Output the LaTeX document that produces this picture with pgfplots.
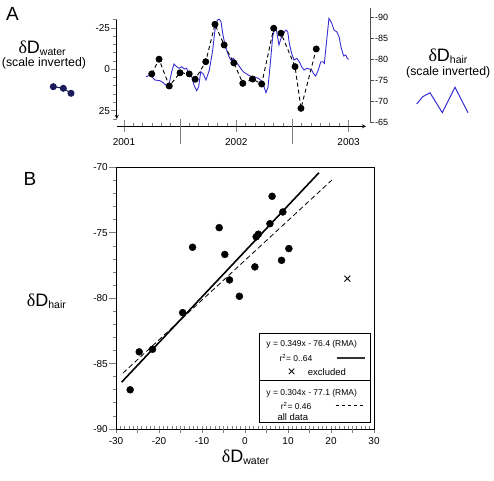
\documentclass[border=0pt]{standalone}
\usepackage{pgfplots}
\pgfplotsset{compat=1.18}
\usepackage{fontspec}
\setmainfont{Liberation Sans}
\newfontfamily\grk{Liberation Serif}
\definecolor{hairblue}{RGB}{55,45,210}
\definecolor{navy}{RGB}{28,28,92}
\definecolor{spinegray}{RGB}{80,80,80}
\newcommand{\dD}[1]{{\fontsize{18}{18}\selectfont{\grk δ}D}\raisebox{-2pt}{\fontsize{10.5}{10.5}\selectfont #1}}
\begin{document}
\begin{tikzpicture}
\useasboundingbox (0,0) rectangle (494pt,480pt);
\pgfplotsset{every axis/.append style={/pgf/number format/assume math mode=true, scale only axis, clip=false, anchor=south west,
  axis line style={-, line width=0.8pt}, tick style={line width=0.8pt}}}

% ---------- Panel B ----------
\begin{axis}[
  at={(116pt,51pt)}, width=258pt, height=261.5pt,
  xmin=-30, xmax=30, ymin=-90, ymax=-70,
  xtick={-30,-20,...,30}, minor x tick num=9,
  extra x ticks={-25,-15,-5,5,15,25}, extra x tick labels={},
  ytick={-90,-85,...,-70}, minor y tick num=4,
  tick pos=left, tick align=outside,
  major tick length=7pt, minor tick length=3.5pt,
  major x tick style={yshift=3.5pt},
  minor x tick style={yshift=3.5pt},
  extra x tick style={major tick length=7pt},
  ticklabel style={font=\fontsize{10}{12}\selectfont},
  yticklabel style={inner sep=1pt},
  xticklabel style={inner sep=1pt},
]
\addplot[black, line width=1.6pt] coordinates {(-28.7,-86.42) (17.2,-70.40)};
\addplot[black, line width=0.8pt, dash pattern=on 5pt off 3pt] coordinates {(-28.4,-85.73) (20.2,-70.96)};
\addplot[only marks, mark=*, mark size=3.5pt, black] coordinates {
(-26.7,-87.0) (-24.6,-84.1) (-21.5,-83.9) (-14.5,-81.1) (-12.2,-76.1) (-6.0,-74.6)
(-4.7,-76.65) (-3.6,-78.6) (-1.3,-79.85) (2.3,-77.6) (2.6,-75.3) (3.1,-75.1)
(5.8,-74.3) (6.3,-72.2) (8.5,-77.1) (8.8,-73.4) (10.2,-76.2)};
\addplot[only marks, mark=x, mark size=4.2pt, black, line width=0.9pt] coordinates {(23.8,-78.5)};
\end{axis}

% ---------- Panel A: time axis ----------
\begin{axis}[
  at={(116.7pt,353.7pt)}, width=249.3pt, height=20pt,
  xmin=2000.935, xmax=2003.155, ymin=0, ymax=1,
  axis x line=bottom, axis y line=none, ytick=\empty,
  xtick={2001,2002,2003}, minor x tick num=11,
  extra x ticks={2001.5,2002.5}, extra x tick labels={},
  tick align=center, major tick length=12pt, minor tick length=3.5pt,
  minor x tick style={yshift=1.75pt},
  extra x tick style={major tick length=25pt, major x tick style={yshift=-5.5pt}},
  xticklabel style={font=\fontsize{10}{12}\selectfont, /pgf/number format/1000 sep={}, yshift=-3pt},
  /pgf/number format/1000 sep={},
]
\end{axis}

% ---------- Panel A: hair (right axis) ----------
\begin{axis}[
  at={(116.7pt,357pt)}, width=253.3pt, height=115pt,
  xmin=2000.935, xmax=2003.1906, ymin=-92.21, ymax=-64.94, y dir=reverse,
  axis y line=right, axis x line=none, xtick=\empty,
  axis line style={-, spinegray},
  ytick={-90,-85,...,-65}, tick align=outside, major tick length=4pt,
  y tick style={spinegray},
  yticklabel style={font=\fontsize{9}{11}\selectfont, inner sep=1pt},
]
\addplot[hairblue, line width=0.9pt] coordinates {
(2001.196,-75.91) (2001.232,-76.31) (2001.276,-75.13) (2001.321,-74.96) (2001.350,-74.49)
(2001.380,-73.71) (2001.403,-74.35) (2001.425,-77.10) (2001.445,-78.92) (2001.469,-78.28)
(2001.492,-77.90) (2001.514,-78.28) (2001.537,-77.74) (2001.558,-77.90) (2001.579,-76.31)
(2001.603,-75.91) (2001.626,-73.71) (2001.647,-72.59) (2001.665,-73.54) (2001.683,-77.10)
(2001.706,-76.55) (2001.730,-75.13) (2001.760,-77.50) (2001.790,-82.24) (2001.810,-86.99)
(2001.831,-89.36) (2001.849,-89.53) (2001.864,-88.96) (2001.879,-86.20) (2001.899,-83.43)
(2001.914,-82.24) (2001.929,-81.06) (2001.950,-79.87) (2001.973,-80.28) (2001.997,-79.47)
(2002.018,-78.69) (2002.039,-77.90) (2002.062,-77.10) (2002.093,-76.55) (2002.122,-76.08)
(2002.158,-75.91) (2002.196,-75.53) (2002.226,-74.89) (2002.249,-73.40) (2002.264,-72.12)
(2002.282,-73.40) (2002.300,-78.28) (2002.324,-85.40) (2002.345,-87.77) (2002.360,-86.58)
(2002.380,-83.43) (2002.398,-85.02) (2002.419,-86.20) (2002.443,-86.99) (2002.458,-86.58)
(2002.472,-83.83) (2002.493,-81.46) (2002.514,-79.87) (2002.538,-80.28) (2002.561,-79.47)
(2002.582,-78.28) (2002.603,-77.50) (2002.627,-77.90) (2002.650,-77.74) (2002.671,-77.50)
(2002.686,-76.72) (2002.707,-76.08) (2002.730,-77.50) (2002.752,-79.47) (2002.769,-79.47)
(2002.784,-79.09) (2002.805,-84.62) (2002.825,-89.76) (2002.850,-88.58) (2002.870,-86.99)
(2002.894,-86.58) (2002.915,-85.40) (2002.935,-82.65) (2002.956,-80.82) (2002.974,-81.06)
(2002.988,-80.28) (2003.001,-80.04)};
\end{axis}

% ---------- Panel A: water (left axis) ----------
\begin{axis}[
  at={(116.7pt,361.1pt)}, width=249.3pt, height=99.2pt,
  xmin=2000.935, xmax=2003.155, ymin=-30, ymax=30, y dir=reverse,
  axis y line=left, axis x line=none, xtick=\empty,
  ytick={-25,0,25}, minor ytick={-30,-20,-15,-10,-5,5,10,15,20,30},
  tick align=outside, major tick length=5.5pt, minor tick length=3.5pt,
  yticklabel style={font=\fontsize{10}{12}\selectfont, inner sep=1pt},
]
\addplot[black, line width=0.9pt, dash pattern=on 4pt off 3pt, mark=*, mark size=3pt, mark options={solid}] coordinates {
(2001.247,2.8) (2001.312,-6.1) (2001.403,10.1) (2001.499,2.1) (2001.581,2.8) (2001.634,6.0)
(2001.728,-4.6) (2001.810,-27.2) (2001.892,-14.7) (2001.978,-3.9) (2002.058,8.5) (2002.144,5.9)
(2002.226,8.9) (2002.333,-24.8) (2002.398,-21.8) (2002.523,-1.6) (2002.576,23.6) (2002.712,-12.3)};
\end{axis}

% ---------- overlay: labels, legend keys ----------
\begin{axis}[
  at={(0pt,0pt)}, width=494pt, height=480pt,
  xmin=0, xmax=494, ymin=0, ymax=480, y dir=reverse, hide axis,
]
\addplot[navy, line width=1pt, mark=*, mark size=3pt] coordinates {(53.3,86.7) (63.3,88.3) (71,93.3)};
\addplot[hairblue, line width=1pt] coordinates {(416.7,104) (422.7,96.7) (430,92.7) (442.3,112.7) (455,87.3) (468,112.7)};

\node[font=\fontsize{19}{19}\selectfont] at (axis cs:12.5,13.5) {A};
\node[font=\fontsize{19}{19}\selectfont] at (axis cs:30,178.5) {B};

\node[anchor=base west, inner sep=0pt] at (axis cs:18.3,53.3) {\dD{water}};
\node[font=\fontsize{12.3}{14}\selectfont] at (axis cs:44,63.3) {(scale inverted)};
\node[anchor=base west, inner sep=0pt] at (axis cs:428.3,61.7) {\dD{hair}};
\node[font=\fontsize{12.3}{14}\selectfont] at (axis cs:448.2,72.7) {(scale inverted)};

\node[anchor=base west, inner sep=0pt] at (axis cs:26.7,306.5) {\dD{hair}};
\node[anchor=base west, inner sep=0pt] at (axis cs:221.7,462) {\dD{water}};

% legend box
\draw[line width=0.8pt] (axis cs:259.3,333.3) rectangle (axis cs:370,422.7);
\draw[line width=1pt] (axis cs:259.3,380.7) -- (axis cs:370,380.7);
\node[font=\fontsize{8.5}{10}\selectfont] at (axis cs:311.7,344) {y = 0.349x - 76.4 (RMA)};
\node[font=\fontsize{8.5}{10}\selectfont, anchor=west, inner sep=0pt] at (axis cs:279.3,358) {r\textsuperscript{2}= 0..64};
\draw[line width=1.5pt, black!80] (axis cs:336.7,358) -- (axis cs:365,358);
\node[font=\fontsize{14}{14}\selectfont] at (axis cs:291.7,372.3) {×};
\node[font=\fontsize{9.5}{10}\selectfont, anchor=west, inner sep=0pt] at (axis cs:307.7,372.3) {excluded};
\node[font=\fontsize{8.5}{10}\selectfont] at (axis cs:311.7,393.3) {y = 0.304x - 77.1 (RMA)};
\node[font=\fontsize{8.5}{10}\selectfont, anchor=west, inner sep=0pt] at (axis cs:280.7,405.7) {r\textsuperscript{2}= 0.46};
\draw[line width=0.9pt, dash pattern=on 3.5pt off 2.5pt] (axis cs:335.7,405.7) -- (axis cs:364,405.7);
\node[font=\fontsize{9.5}{10}\selectfont, anchor=west, inner sep=0pt] at (axis cs:277.3,416.7) {all data};
\end{axis}
\end{tikzpicture}
\end{document}
